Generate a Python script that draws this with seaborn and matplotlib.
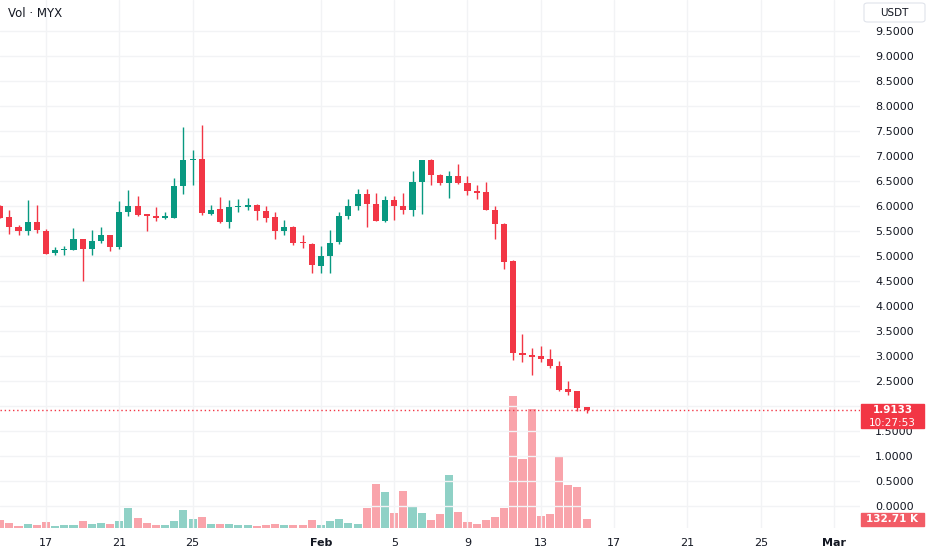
import numpy as np
import pandas as pd
import matplotlib
matplotlib.use("Agg")
import matplotlib.pyplot as plt
import matplotlib.dates as mdates
import matplotlib.transforms as mtransforms
from matplotlib.patches import Rectangle, FancyBboxPatch
import seaborn as sns

# 12h candles of MYX / USDT
opens = [6.00, 5.77, 5.58, 5.50, 5.67, 5.51, 5.06, 5.11, 5.12, 5.33,
         5.14, 5.29, 5.41, 5.17, 5.87, 6.00, 5.83, 5.80, 5.76, 5.77,
         6.40, 6.91, 6.94, 5.85, 5.93, 5.67, 5.97, 5.98, 6.01, 5.90,
         5.77, 5.49, 5.57, 5.27, 5.24, 4.81, 5.00, 5.28, 5.80, 6.00,
         6.23, 6.04, 5.69, 6.12, 6.00, 5.93, 6.47, 6.91, 6.61, 6.45,
         6.59, 6.45, 6.30, 6.27, 5.92, 5.64, 4.91, 3.07, 3.03, 3.00,
         2.95, 2.81, 2.35, 2.30, 1.97]
highs = [6.02, 5.92, 5.62, 6.11, 6.01, 5.53, 5.17, 5.20, 5.55, 5.34,
         5.51, 5.57, 5.43, 6.10, 6.32, 6.20, 5.84, 5.97, 5.89, 6.55,
         7.57, 7.12, 7.61, 6.02, 6.17, 6.11, 6.13, 6.15, 6.03, 6.00,
         5.87, 5.71, 5.59, 5.42, 5.26, 5.19, 5.52, 5.87, 6.13, 6.35,
         6.35, 6.25, 6.20, 6.20, 6.27, 6.69, 6.92, 6.93, 6.64, 6.69,
         6.84, 6.59, 6.41, 6.47, 5.99, 5.66, 4.92, 3.45, 3.17, 3.21,
         3.14, 2.90, 2.50, 2.31, 1.98]
lows = [5.75, 5.44, 5.42, 5.43, 5.45, 5.04, 5.01, 5.01, 5.11, 4.51,
        5.02, 5.27, 5.09, 5.14, 5.81, 5.80, 5.49, 5.69, 5.73, 5.76,
        6.24, 6.42, 5.82, 5.82, 5.66, 5.55, 5.89, 5.92, 5.71, 5.67,
        5.35, 5.42, 5.22, 5.15, 4.65, 4.65, 4.65, 5.24, 5.73, 5.92,
        5.57, 5.69, 5.67, 5.71, 5.85, 5.81, 5.83, 6.41, 6.41, 6.15,
        6.44, 6.21, 6.13, 5.91, 5.35, 4.74, 2.92, 2.89, 2.62, 2.89,
        2.77, 2.31, 2.23, 1.91, 1.87]
closes = [5.77, 5.58, 5.50, 5.67, 5.51, 5.05, 5.12, 5.13, 5.33, 5.13,
          5.30, 5.41, 5.17, 5.87, 6.00, 5.82, 5.80, 5.76, 5.79, 6.40,
          6.91, 6.94, 5.86, 5.93, 5.67, 5.97, 6.00, 6.02, 5.90, 5.77,
          5.50, 5.57, 5.25, 5.25, 4.82, 5.00, 5.27, 5.80, 5.99, 6.23,
          6.03, 5.70, 6.12, 5.99, 5.93, 6.48, 6.91, 6.61, 6.45, 6.59,
          6.45, 6.30, 6.26, 5.92, 5.63, 4.89, 3.07, 3.02, 2.99, 2.95,
          2.80, 2.33, 2.29, 1.97, 1.9133]
# volume in thousands
volumes = [117, 81, 31, 66, 41, 96, 31, 41, 50, 102,
           56, 81, 66, 102, 300, 148, 76, 50, 41, 102,
           279, 133, 172, 56, 66, 56, 41, 41, 31, 50,
           56, 50, 50, 50, 122, 50, 102, 133, 76, 56,
           300, 676, 549, 233, 560, 336, 224, 122, 218, 804,
           244, 96, 66, 117, 163, 310, 2008, 1048, 1815, 188,
           218, 1083, 651, 621, 132.71]

tick_dates = ["2025-01-17", "2025-01-21", "2025-01-25", "2025-02-01", "2025-02-05",
              "2025-02-09", "2025-02-13", "2025-02-17", "2025-02-21", "2025-02-25",
              "2025-03-01"]
tick_labels = ["17", "21", "25", "Feb", "5", "9", "13", "17", "21", "25", "Mar"]
price_ticks = np.arange(0, 10, 0.5)

last_price = "1.9133"
countdown = "10:27:53"
last_volume = "132.71 K"

UP = "#089981"
DOWN = "#F23645"

sns.set_theme(style="white")
plt.rcParams["font.family"] = ["DejaVu Sans"]

times = pd.date_range("2025-01-14 12:00", periods=len(opens), freq="12h")
x = mdates.date2num(times)
o = np.array(opens); h = np.array(highs); l = np.array(lows); c = np.array(closes)
up = c >= o
colors = np.where(up, UP, DOWN)

fig = plt.figure(figsize=(9.32, 5.5), dpi=100)
ax = fig.add_axes([0, 22 / 550, 860 / 932, 528 / 550])
axv = ax.twinx()
ax.set_zorder(axv.get_zorder() + 1)
ax.patch.set_visible(False)

# volume
axv.bar(x, volumes, width=0.44, color=colors, alpha=0.45, linewidth=0)
axv.set_ylim(0, 528 * 15.25)
axv.set_yticks([])

# candles
ax.vlines(x, l, h, colors=colors, linewidth=1)
body_lo = np.minimum(o, c)
body_h = np.maximum(np.abs(c - o), 0.02)
ax.bar(x, body_h, bottom=body_lo, width=0.33, color=colors, linewidth=0)

# last price line
p = float(last_price)
ax.axhline(p, color=DOWN, linestyle=(0, (1, 2)), linewidth=1)

ax.set_ylim(-0.44, 10.12)
ax.set_xlim(x[0] - 0.01, x[0] + 860 / 18.33)
ax.set_yticks(price_ticks)
ax.yaxis.tick_right()
# the 2.0000 label sits under the last-price tag
ax.set_yticklabels(["" if abs(v - 2.0) < 1e-9 else f"{v:.4f}" for v in price_ticks],
                   fontsize=8, color="#131722")
ax.tick_params(axis="y", length=0, pad=11)

tick_x = mdates.date2num(pd.to_datetime(tick_dates))
ax.set_xticks(tick_x)
ax.set_xticklabels(tick_labels, fontsize=8, color="#131722")
for lab in ax.get_xticklabels():
    if not lab.get_text().isdigit():
        lab.set_fontweight("bold")
ax.tick_params(axis="x", length=0, pad=7)

ax.grid(True, color="#F2F3F5", linewidth=1)
axv.grid(False)
for a in (ax, axv):
    for s in a.spines.values():
        s.set_visible(False)

ax.text(0.009, 0.975, "Vol \u00b7 MYX", transform=ax.transAxes, fontsize=8.5,
        color="#131722", ha="left", va="center")

# right-hand tags
tr = mtransforms.blended_transform_factory(fig.transFigure, ax.transData)
ax.add_patch(Rectangle((861 / 932, p - 0.36), 63 / 932, 0.48, transform=tr,
                       color=DOWN, clip_on=False, zorder=10))
ax.text(892.5 / 932, p, last_price, transform=tr, fontsize=7.5, color="white",
        fontweight="bold", va="center", ha="center", zorder=11, clip_on=False)
ax.text(892.5 / 932, p - 0.245, countdown, transform=tr, fontsize=7.5, color="white",
        va="center", ha="center", zorder=11, clip_on=False)

trv = mtransforms.blended_transform_factory(fig.transFigure, axv.transData)
vlast = volumes[-1]
axv.add_patch(Rectangle((861 / 932, vlast - 6.5 * 15.25), 63 / 932, 13 * 15.25,
                        transform=trv, color="#F25C66", clip_on=False, zorder=10))
axv.text(892.5 / 932, vlast, last_volume, transform=trv, fontsize=7.5, color="white",
         fontweight="bold", va="center", ha="center", zorder=11, clip_on=False)

fig.patches.append(FancyBboxPatch((864 / 932, 1 - 22 / 550), 61 / 932, 19 / 550,
                                  boxstyle="round,pad=0,rounding_size=0.004",
                                  transform=fig.transFigure, facecolor="white",
                                  edgecolor="#E0E3EB", linewidth=0.8))
fig.text(894 / 932, 1 - 12.5 / 550, "USDT", fontsize=7.5, color="#131722",
         ha="center", va="center")

fig.savefig("out.png", dpi=100, facecolor="white")
